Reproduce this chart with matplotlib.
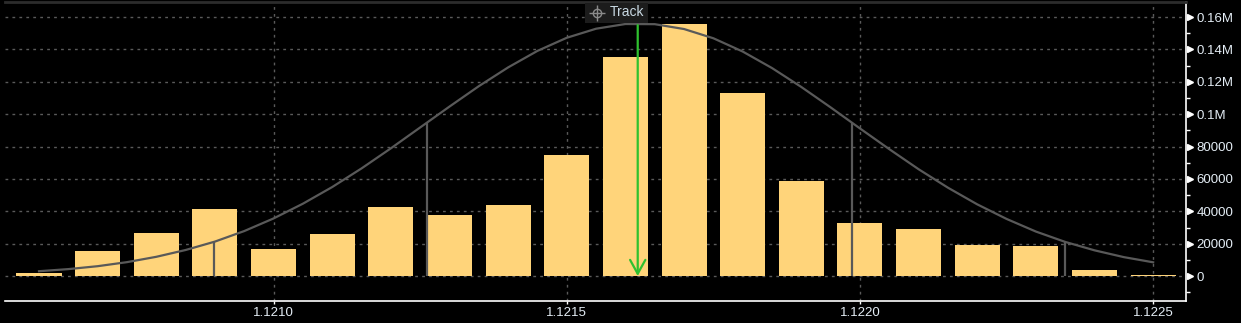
import matplotlib
matplotlib.use("Agg")
import matplotlib.pyplot as plt
import matplotlib.transforms as mtransforms
from matplotlib.patches import Rectangle
from matplotlib.lines import Line2D

# ---- data ----
prices = [1.1206, 1.1207, 1.1208, 1.1209, 1.1210, 1.1211, 1.1212, 1.1213, 1.1214, 1.1215,
          1.1216, 1.1217, 1.1218, 1.1219, 1.1220, 1.1221, 1.1222, 1.1223, 1.1224, 1.1225]
volumes = [1900, 15500, 26600, 41500, 16700, 26000, 42700, 37800, 44000, 74900,
           135500, 155500, 113000, 59000, 33000, 29000, 19500, 18300, 3700, 400]
curve_x = [1.12060, 1.12065, 1.12070, 1.12075, 1.12080, 1.12085, 1.12090, 1.12095,
           1.12100, 1.12105, 1.12110, 1.12115, 1.12120, 1.12125, 1.12130, 1.12135,
           1.12140, 1.12145, 1.12150, 1.12155, 1.12160, 1.12165, 1.12170, 1.12175,
           1.12180, 1.12185, 1.12190, 1.12195, 1.12200, 1.12205, 1.12210, 1.12215,
           1.12220, 1.12225, 1.12230, 1.12235, 1.12240, 1.12245, 1.12250]
curve_y = [3000, 4300, 6100, 8600, 11900, 16100, 21300, 27800,
           35600, 44700, 55000, 66500, 78900, 91800, 104700, 117300,
           128900, 139100, 147200, 152800, 155700, 155600, 152600, 146900,
           138700, 128500, 116800, 104200, 91200, 78400, 66000, 54600,
           44300, 35300, 27500, 21100, 15900, 11700, 8500]
sigma_x = [1.120898, 1.121261, 1.121987, 1.122350]
sigma_y = [21100, 94600, 94600, 21100]
track_x = 1.121621
track_top = 155000
xticks = [1.1210, 1.1215, 1.1220, 1.1225]
xticklabels = ["1.1210", "1.1215", "1.1220", "1.1225"]
yticks = [0, 20000, 40000, 60000, 80000, 100000, 120000, 140000, 160000]
yticklabels = ["0", "20000", "40000", "60000", "80000", "0.1M", "0.12M", "0.14M", "0.16M"]
yminor = [-10000, 10000, 30000, 50000, 70000, 90000, 110000, 130000, 150000]

W, H = 1241, 323
fig = plt.figure(figsize=(W / 100, H / 100), dpi=100, facecolor="black")
ax = fig.add_axes([5 / W, 22 / H, 1181 / W, 299 / H], facecolor="black")

font = "Liberation Sans"
label_color = "#e4edf5"
bar_color = "#ffd47a"
line_color = "#595959"

ax.set_xlim(1.120542, 1.122556)
ax.set_ylim(-15400, 169300)

# grid
for y in yticks:
    ax.axhline(y, color="#5a5a5a", lw=1, ls=(0, (2, 3)), zorder=0)
for x in xticks:
    ax.axvline(x, color="#5a5a5a", lw=1, ls=(0, (2, 3)), zorder=0)

ax.bar(prices, volumes, width=0.0000768, color=bar_color, zorder=2)
ax.plot(curve_x, curve_y, color=line_color, lw=1.6, zorder=3)
ax.vlines(sigma_x, 0, sigma_y, color=line_color, lw=1.6, zorder=3)

ax.annotate("", xy=(track_x, 0), xytext=(track_x, track_top),
            arrowprops=dict(arrowstyle="->,head_length=1.0,head_width=0.55",
                            color="#2fc12f", lw=1.6, shrinkA=0, shrinkB=0,
                            mutation_scale=10),
            zorder=4)

# spines
ax.spines["left"].set_visible(False)
ax.spines["top"].set_color("#2c2c2c")
ax.spines["top"].set_linewidth(2)
ax.spines["right"].set_color("white")
ax.spines["bottom"].set_color("white")
ax.spines["right"].set_linewidth(1.2)
ax.spines["bottom"].set_linewidth(1.2)

# x ticks
ax.set_xticks(xticks)
ax.set_xticklabels(xticklabels, family=font, fontsize=9.5, color=label_color)
ax.tick_params(axis="x", colors="white", length=2, width=1, pad=2, labelcolor=label_color)

# y ticks on right
ax.yaxis.tick_right()
ax.set_yticks(yticks)
ax.set_yticklabels(yticklabels, family=font, fontsize=9.5, color=label_color)
ax.set_yticks(yminor, minor=True)
ax.tick_params(axis="y", which="major", length=0, pad=7.5, labelcolor=label_color)
ax.tick_params(axis="y", which="minor", length=3, width=1, color="white")

# triangle markers at major y ticks
trans = mtransforms.blended_transform_factory(ax.transAxes, ax.transData)
trans = trans + mtransforms.ScaledTranslation(3.5 / 100, 0, fig.dpi_scale_trans)
ax.plot([1] * len(yticks), yticks, marker=">", ls="none", color="white",
        markersize=4.5, clip_on=False, transform=trans, zorder=5)

# Track label box
fig.patches.append(Rectangle((585 / W, 1 - 23 / H), 63 / W, 20 / H,
                             transform=fig.transFigure, facecolor="#1c1c1c",
                             edgecolor="none", zorder=10))
cx, cy = 597 / W, 1 - 12.5 / H
fig.lines.append(Line2D([cx], [cy], marker="o", markersize=6, markerfacecolor="none",
                        markeredgecolor="#8a8a8a", markeredgewidth=1,
                        transform=fig.transFigure, zorder=11))
fig.lines.append(Line2D([cx], [cy], marker="+", markersize=11,
                        markeredgecolor="#8a8a8a", markeredgewidth=1,
                        transform=fig.transFigure, zorder=11))
fig.text(610 / W, 1 - 12.5 / H, "Track", family=font, fontsize=10, color="#c8d8e2",
         ha="left", va="center", zorder=12)

fig.savefig("out.png", dpi=100, facecolor="black")
